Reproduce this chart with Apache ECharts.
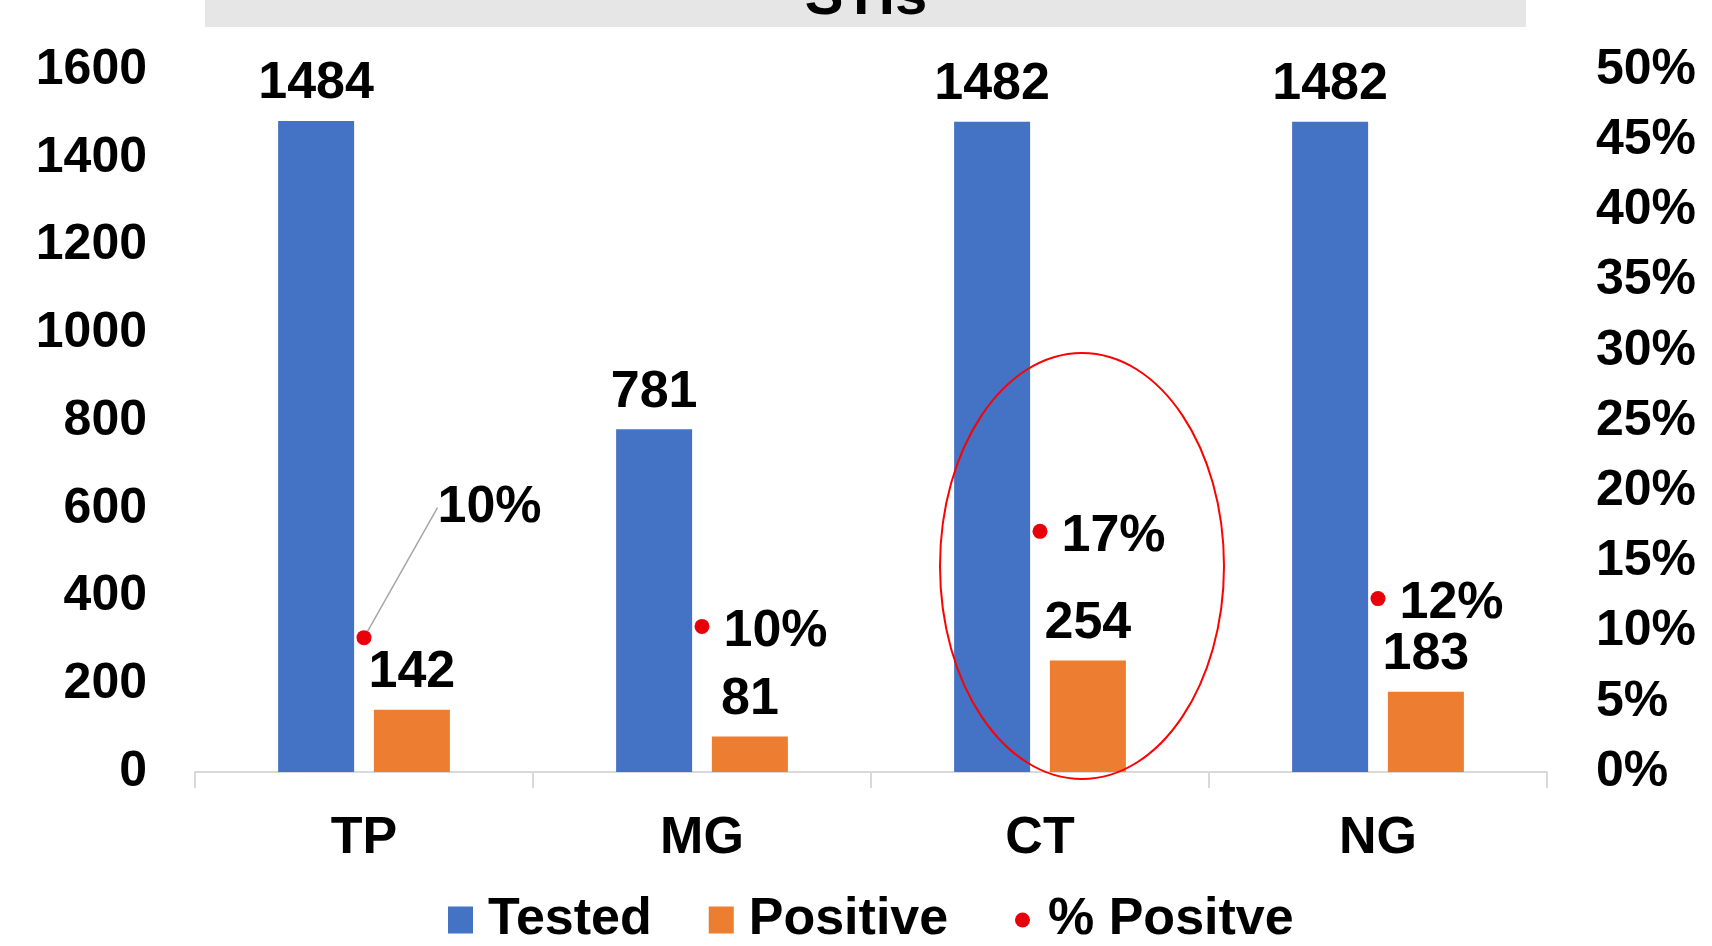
<!DOCTYPE html>
<html>
<head>
<meta charset="utf-8">
<title>STIs</title>
<script src="https://cdn.jsdelivr.net/npm/echarts@6/dist/echarts.min.js"></script>
<style>
  html, body { margin: 0; padding: 0; background: #ffffff; }
  #chart { width: 1712px; height: 946px; }
</style>
</head>
<body>
<div id="chart"></div>
<script>
// Infections tested, positives and share positive
const categories = ['TP', 'MG', 'CT', 'NG'];
const tested = [1484, 781, 1482, 1482];
const positive = [142, 81, 254, 183];
const pctPositive = [0.0957, 0.1037, 0.1714, 0.1235];
const countTicks = { min: 0, max: 1600, interval: 200 };
const pctTicks = { min: 0, max: 0.5, interval: 0.05 };

const FONT = "'Liberation Sans', Arial, sans-serif";
const BLUE = '#4472C4';
const ORANGE = '#ED7D31';
const RED = '#E8000B';

const pct = v => Math.round(v * 100) + '%';

const chart = echarts.init(document.getElementById('chart'), null, { renderer: 'canvas' });

const scatterData = pctPositive.map((v, i) => i === 0
  ? { value: v, labelLine: { show: true } }
  : { value: v });

const option = {
  backgroundColor: '#ffffff',
  animation: false,
  textStyle: { fontFamily: FONT, fontWeight: 'bold', color: '#000' },
  grid: { left: 195, right: 165, top: 70, bottom: 174, containLabel: false },
  graphic: [
    {
      type: 'rect', left: 205, top: 0, z: 0,
      shape: { width: 1321, height: 27 },
      style: { fill: '#E6E6E6' }
    },
    {
      type: 'text', x: 866, y: -2, z: 1,
      style: {
        text: 'STIs', fill: '#000', font: "bold 58px 'Liberation Sans', Arial, sans-serif",
        textAlign: 'center', textVerticalAlign: 'middle'
      }
    },
    {
      type: 'ellipse', z: 100,
      shape: { cx: 1082, cy: 566, rx: 142, ry: 213 },
      style: { fill: 'none', stroke: '#FF0000', lineWidth: 2 }
    }
  ],
  legend: [
    {
      data: ['Tested', 'Positive'],
      left: 448, top: 890, padding: 0,
      itemWidth: 25, itemHeight: 27, itemGap: 57,
      icon: 'rect',
      textStyle: { fontFamily: FONT, fontWeight: 'bold', fontSize: 52, color: '#000', lineHeight: 60, padding: [0, 0, 0, 10] }
    },
    {
      data: ['% Positve'],
      left: 1015, top: 890, padding: 0,
      itemWidth: 15, itemHeight: 15,
      icon: 'circle',
      itemStyle: { color: RED, opacity: 1 },
      textStyle: { fontFamily: FONT, fontWeight: 'bold', fontSize: 52, color: '#000', lineHeight: 60, padding: [0, 0, 0, 13] }
    }
  ],
  xAxis: {
    type: 'category',
    data: categories,
    boundaryGap: true,
    axisLine: { show: true, lineStyle: { color: '#D9D9D9', width: 2 } },
    axisTick: { show: true, alignWithLabel: false, length: 16, lineStyle: { color: '#D9D9D9', width: 2 } },
    axisLabel: { margin: 41, fontFamily: FONT, fontWeight: 'bold', fontSize: 52, color: '#000' },
    splitLine: { show: false }
  },
  yAxis: [
    {
      type: 'value',
      min: countTicks.min, max: countTicks.max, interval: countTicks.interval,
      axisLine: { show: false }, axisTick: { show: false },
      splitLine: { show: false },
      axisLabel: { margin: 48, padding: [6, 0, 0, 0], fontFamily: FONT, fontWeight: 'bold', fontSize: 50, color: '#000', formatter: v => String(v) }
    },
    {
      type: 'value',
      min: pctTicks.min, max: pctTicks.max, interval: pctTicks.interval,
      axisLine: { show: false }, axisTick: { show: false },
      splitLine: { show: false },
      axisLabel: { margin: 49, padding: [6, 0, 0, 0], fontFamily: FONT, fontWeight: 'bold', fontSize: 50, color: '#000', formatter: pct }
    }
  ],
  series: [
    {
      name: 'Tested', type: 'bar', yAxisIndex: 0,
      data: tested, barWidth: 76, barGap: '26%',
      itemStyle: { color: BLUE },
      label: { show: true, position: 'top', distance: 11, fontFamily: FONT, fontWeight: 'bold', fontSize: 52, color: '#000' }
    },
    {
      name: 'Positive', type: 'bar', yAxisIndex: 0,
      data: positive, barWidth: 76,
      itemStyle: { color: ORANGE },
      label: { show: true, position: 'top', distance: 11, fontFamily: FONT, fontWeight: 'bold', fontSize: 52, color: '#000' }
    },
    {
      name: '% Positve', type: 'scatter', yAxisIndex: 1,
      data: scatterData, symbol: 'circle', symbolSize: 15,
      itemStyle: { color: RED, opacity: 1 },
      z: 5,
      label: {
        show: true, position: 'right', distance: 14,
        fontFamily: FONT, fontWeight: 'bold', fontSize: 52, color: '#000', opacity: 1,
        formatter: p => pct(p.value)
      },
      emphasis: { disabled: true },
      labelLine: { show: false, lineStyle: { color: '#A6A6A6', width: 1.5, opacity: 1 } },
      // first label is lifted clear of the bar label and tied back with a leader line
      labelLayout: params => params.dataIndex === 0 ? { dx: 52, dy: -130 } : { dy: 5 }
    }
  ]
};

chart.setOption(option);
</script>
</body>
</html>
